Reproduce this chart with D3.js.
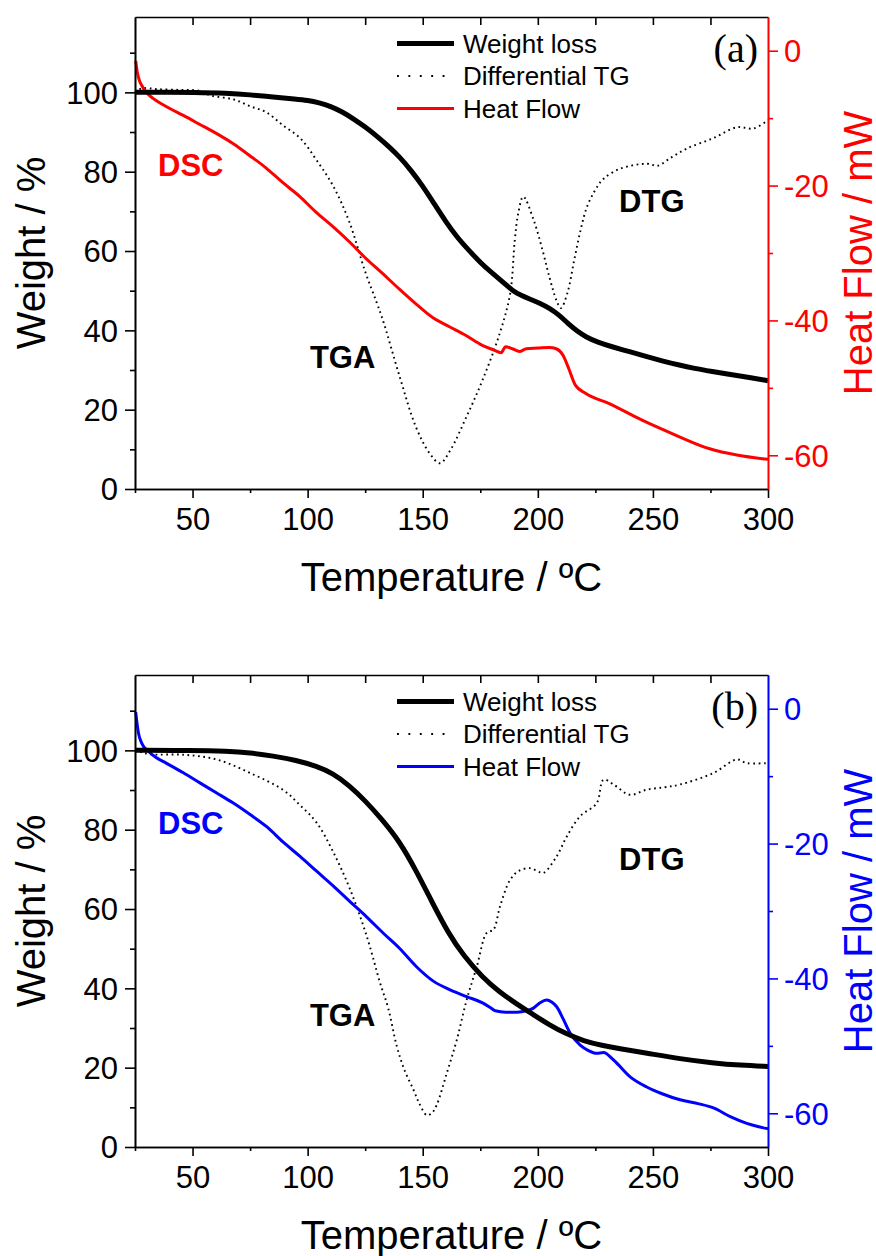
<!DOCTYPE html>
<html>
<head>
<meta charset="utf-8">
<script src="https://cdn.jsdelivr.net/npm/d3@7"></script>
<style>
  body { margin: 0; background: #fff; }
  svg { display: block; }
  text { font-family: "Liberation Sans", Arial, sans-serif; }
</style>
</head>
<body>
<div id="viz"></div>
<script>
// ---- data: [temperature ºC, value] ----
// panel (a)
var weightA = [[25,100],[40,100],[50,100],[65,99.8],[75,99.4],[85,98.8],[95,98.3],[100,98.0],[105,97.4],[110,96.5],[115,95.1],[120,93.3],[125,91.3],[130,89],[135,86.5],[140,83.7],[145,80.3],[150,76.4],[155,71.9],[160,67.4],[165,63.4],[170,60.2],[175,57.1],[180,54.5],[185,52.1],[189,50],[193,48.7],[197,47.8],[201,46.8],[205,45.6],[209,44],[213,41.8],[217,39.8],[221,38.3],[226,37],[232,35.9],[240,34.6],[247,33.4],[254,32.3],[261,31.3],[268,30.4],[276,29.6],[283,28.9],[290,28.3],[300,27.3]];
var heatA = [[25.3,-1.5],[26,-3.2],[27,-4.5],[28,-5.2],[30,-6.2],[33,-7.1],[38.7,-8.3],[46,-9.6],[53,-10.9],[60.5,-12.3],[67.7,-13.8],[74.6,-15.5],[82,-17.4],[89,-19.5],[96.5,-21.6],[103.5,-23.9],[111,-26.1],[118,-28.3],[125,-30.7],[132.4,-33],[140,-35.4],[146.9,-37.5],[154,-39.5],[161.4,-40.9],[168.6,-42.2],[175.9,-43.7],[181,-44.4],[184,-44.8],[186,-43.9],[189,-44.2],[192,-44.6],[195,-44.2],[200,-44.1],[205,-44.0],[208,-44.2],[211,-45.2],[213.5,-47.2],[216.3,-49.6],[220.7,-50.8],[230.8,-52.3],[245.3,-54.8],[259.8,-57],[274.3,-59],[287,-60.0],[297.4,-60.5],[300,-60.6]];
var dtgA = [[25,100],[28,101],[35,100.8],[45,100.6],[53,100.4],[58,99.2],[68,98.2],[75,96.5],[82,95],[89,91.8],[97,88.3],[104,82.8],[111,76.5],[118,67.5],[125,54.8],[130,47],[133,42],[140,28.3],[147,15.7],[153,9],[157.5,6.5],[162,9.8],[169,18.2],[176,27.5],[183.5,39.3],[188,49.3],[190,62.8],[191.5,69.5],[193.7,73.7],[198.2,67.8],[202,60.3],[205,53.5],[208,47.7],[210,45.6],[212.8,49.3],[215.8,57.7],[218.6,65.3],[221.4,71.2],[225.8,76.2],[228.7,78.3],[236,80.8],[247.5,82],[252,81.5],[258,83.6],[265,85.9],[276,88.4],[286.5,91.2],[293.7,90.9],[300,93]];

// panel (b)
var weightB = [[25,100],[50,100],[65,99.8],[75,99.4],[85,98.6],[95,97.5],[104,96],[111,94.2],[118,91.2],[125,87.3],[132,82.8],[140,77],[147,69.8],[154,61.8],[161,54],[168,48],[176,42.8],[183,39.2],[191,36],[198,33.4],[205,30.8],[212,28.6],[220,26.7],[228,25.6],[235,24.8],[247,23.7],[262,22.2],[276,21.2],[288,20.6],[300,20.3]];
var heatB = [[25.3,-0.5],[26.5,-3.6],[27.9,-5.1],[30.8,-6.3],[34,-7.2],[38.7,-8.1],[46,-9.5],[53.2,-11],[60.5,-12.5],[67.7,-14],[75,-15.7],[82.2,-17.5],[89.4,-19.8],[96.7,-21.9],[103.9,-24.1],[111.2,-26.3],[118.4,-28.6],[125.7,-30.9],[132.9,-33.3],[140.1,-35.6],[147.4,-38.3],[154.6,-40.4],[161.9,-41.7],[169.1,-42.7],[176.4,-43.7],[179.3,-44.3],[181.5,-44.8],[186,-45.0],[191,-45.0],[195,-44.8],[198.1,-44.4],[201,-43.6],[203.9,-43.2],[206,-43.5],[208.2,-44.2],[211,-46],[214,-48.1],[218.4,-49.9],[222,-50.7],[225.6,-51.1],[228.5,-51.0],[232.9,-52.1],[240.1,-54.6],[247.3,-56.1],[254,-57.1],[261.8,-58.0],[270,-58.6],[276.3,-59.2],[283.6,-60.5],[290.8,-61.5],[296,-62],[300,-62.3]];
var dtgB = [[25,100],[28,99.5],[32,99],[46,98.9],[60.5,97.7],[75,94.3],[89.4,90],[97,86],[104,81.7],[111,74.5],[118.4,65],[125.7,53.1],[131.4,41.5],[135,35],[138.7,25.5],[142,19.5],[146,14.4],[148.5,11],[151.8,8],[154,8.6],[156,10.5],[160.5,18.7],[164.8,27],[169.1,37.1],[173.5,45.5],[177.8,54],[180.7,54.8],[183.6,60.7],[188,67.4],[192,69.7],[196.7,70.3],[200,69.5],[202.4,69.1],[208.2,73.3],[212.6,78.3],[218.4,83.4],[225.6,86.7],[228.5,92.6],[232.9,91.4],[240,88.8],[247.3,90.1],[255,90.7],[261.8,91.4],[276.3,94.3],[286.4,97.7],[290.8,96.8],[300,96.8]];

// ticks and labels
var xMajor = [50, 100, 150, 200, 250, 300];
var xMinor = [25, 75, 125, 175, 225, 275];
var xTop = [50, 75, 100, 125, 150, 175, 200, 225, 250, 275];
var wMajor = [0, 20, 40, 60, 80, 100];
var wMinor = [10, 30, 50, 70, 90, 110];
var hMajor = [0, -20, -40, -60];
var hMinor = [-10, -30, -50];
var legendNames = ["Weight loss", "Differential TG", "Heat Flow"];

// ---- layout ----
var W = 876, H = 1256;
var left = 135, pw = 633, ph = 472;
var panelTops = [17, 675];

var svg = d3.select("#viz")
  .append("svg")
  .attr("width", W)
  .attr("height", H);

var x = d3.scaleLinear().domain([25, 300]).range([0, pw]);
var yW = d3.scaleLinear().domain([0, 119]).range([ph, 0]);
var yH = d3.scaleLinear().domain([-65, 5]).range([ph, 0]);

function styleAxis(g, color, fontSize) {
  g.selectAll("path").attr("stroke", color).attr("stroke-width", 1.6);
  g.selectAll("line").attr("stroke", color).attr("stroke-width", 1.6);
  g.selectAll("text").attr("fill", color)
    .style("font-size", fontSize + "px")
    .style("font-family", '"Liberation Sans", Arial, sans-serif');
}

function drawPanel(top, weight, dtg, heat, color, tag) {
  var g = svg.append("g").attr("transform", "translate(" + left + "," + top + ")");

  // curves
  var dotted = d3.line().curve(d3.curveCatmullRom.alpha(0.5))
    .x(function(d) { return x(d[0]); })
    .y(function(d) { return yW(d[1]); });
  g.append("path").datum(dtg)
    .attr("fill", "none")
    .attr("stroke", "#000")
    .attr("stroke-width", 1.9)
    .attr("stroke-dasharray", "1.7,3.6")
    .attr("d", dotted);

  var hf = d3.line().curve(d3.curveMonotoneX)
    .x(function(d) { return x(d[0]); })
    .y(function(d) { return yH(d[1]); });
  g.append("path").datum(heat)
    .attr("fill", "none")
    .attr("stroke", color)
    .attr("stroke-width", 3)
    .attr("d", hf);

  var wl = d3.line().curve(d3.curveBasis)
    .x(function(d) { return x(d[0]); })
    .y(function(d) { return yW(d[1]); });
  g.append("path").datum(weight)
    .attr("fill", "none")
    .attr("stroke", "#000")
    .attr("stroke-width", 5)
    .attr("d", wl);

  // axes
  var bx = g.append("g").attr("transform", "translate(0," + ph + ")")
    .call(d3.axisBottom(x).tickValues(xMajor).tickSize(9).tickSizeOuter(0).tickPadding(10));
  styleAxis(bx, "#000", 31);
  var bxm = g.append("g").attr("transform", "translate(0," + ph + ")")
    .call(d3.axisBottom(x).tickValues(xMinor).tickSize(4).tickSizeOuter(0).tickFormat(""));
  styleAxis(bxm, "#000", 31);

  var tx = g.append("g")
    .call(d3.axisTop(x).tickValues(xTop).tickSize(-8).tickSizeOuter(0).tickFormat(""));
  styleAxis(tx, "#000", 31);

  var ly = g.append("g")
    .call(d3.axisLeft(yW).tickValues(wMajor).tickSize(10).tickSizeOuter(0).tickPadding(7));
  styleAxis(ly, "#000", 31);
  ly.selectAll("text").attr("dy", "0.35em");
  var lym = g.append("g")
    .call(d3.axisLeft(yW).tickValues(wMinor).tickSize(5).tickSizeOuter(0).tickFormat(""));
  styleAxis(lym, "#000", 31);

  var ry = g.append("g").attr("transform", "translate(" + pw + ",0)")
    .call(d3.axisRight(yH).tickValues(hMajor).tickSize(10).tickSizeOuter(0).tickPadding(6)
      .tickFormat(function(d) { return String(d); }));
  styleAxis(ry, color, 31);
  ry.selectAll("text").attr("dy", "0.35em");
  var rym = g.append("g").attr("transform", "translate(" + pw + ",0)")
    .call(d3.axisRight(yH).tickValues(hMinor).tickSize(5).tickSizeOuter(0).tickFormat(""));
  styleAxis(rym, color, 31);

  // axis titles
  g.append("text")
    .attr("text-anchor", "middle")
    .attr("x", pw / 2).attr("y", ph + 102)
    .style("font-size", "40px")
    .text("Temperature / ºC");

  g.append("text")
    .attr("text-anchor", "middle")
    .attr("transform", "translate(" + (45 - left) + "," + (ph / 2) + ") rotate(-90)")
    .style("font-size", "40px")
    .text("Weight / %");

  g.append("text")
    .attr("text-anchor", "middle")
    .attr("fill", color)
    .attr("transform", "translate(" + (872 - left) + "," + (ph / 2) + ") rotate(-90)")
    .style("font-size", "40px")
    .text("Heat Flow / mW");

  // legend
  var rows = [26.5, 59, 91.5];
  var lg = g.append("g").attr("transform", "translate(" + (397 - left) + ",0)");
  lg.append("line").attr("x1", 0).attr("x2", 57).attr("y1", rows[0]).attr("y2", rows[0])
    .attr("stroke", "#000").attr("stroke-width", 5);
  lg.append("line").attr("x1", 0).attr("x2", 57).attr("y1", rows[1]).attr("y2", rows[1])
    .attr("stroke", "#000").attr("stroke-width", 1.9).attr("stroke-dasharray", "1.9,9.5");
  lg.append("line").attr("x1", 0).attr("x2", 57).attr("y1", rows[2]).attr("y2", rows[2])
    .attr("stroke", color).attr("stroke-width", 3);
  legendNames.forEach(function(name, i) {
    lg.append("text")
      .attr("x", 66).attr("y", rows[i]).attr("dy", "0.35em")
      .style("font-size", "26px")
      .text(name);
  });

  // panel tag
  g.append("text")
    .attr("text-anchor", "end")
    .attr("x", 758 - left).attr("y", 45)
    .style("font-family", '"Liberation Serif", "Times New Roman", serif')
    .style("font-size", "40px")
    .text(tag);

  // curve annotations, placed in data coordinates
  var notes = [["DSC", 35, 78.9, color], ["TGA", 101, 30.5, "#000"], ["DTG", 235.3, 69.8, "#000"]];
  notes.forEach(function(n) {
    g.append("text")
      .attr("x", x(n[1])).attr("y", yW(n[2]))
      .attr("fill", n[3])
      .style("font-size", "31px")
      .style("font-weight", "bold")
      .text(n[0]);
  });
}

drawPanel(panelTops[0], weightA, dtgA, heatA, "#ff0000", "(a)");
drawPanel(panelTops[1], weightB, dtgB, heatB, "#0000ff", "(b)");
</script>
</body>
</html>
